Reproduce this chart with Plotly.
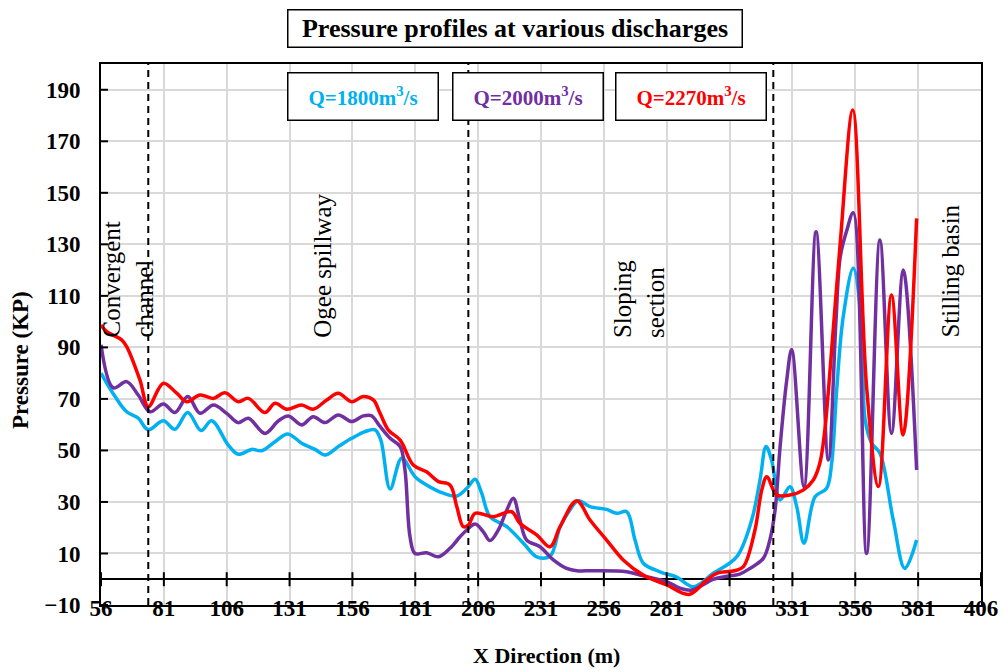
import plotly.graph_objects as go

# ---------------- data ----------------
x_1800 = [56, 61.6, 66.2, 70.8, 74.8, 80.8, 85.4, 90.5, 95.8, 100, 106.6, 110.6, 115.9, 119.9,
          125.2, 130.3, 135.8, 141.1, 145.1, 150.4, 155.7, 161, 165, 167.3, 171, 175.6, 180.9,
          185.5, 192.1, 197.5, 201.5, 204.8, 207.4, 210.7, 217.4, 224, 229.3, 234.6, 238.6,
          242.5, 245.8, 250.5, 257.1, 261.1, 265.1, 268.4, 271.7, 278.3, 285, 291.6, 299.5,
          308.8, 314.8, 318.1, 320.5, 322.7, 326.1, 330, 332.7, 335.6, 340, 344.6, 346.6,
          348.6, 351.2, 355.2, 358.5, 359.9, 362.5, 365.8, 371.1, 375.7, 380.4]
p_1800 = [80, 70.9, 65, 62.5, 58, 61.5, 58.2, 64.7, 57.7, 61.5, 52.1, 48.5, 50.4, 49.9,
          53.4, 56.4, 52.8, 50.4, 48.2, 51.5, 54.7, 57.3, 58, 54, 35, 47, 39.8,
          36.6, 33.4, 32.3, 35.3, 38.8, 33.4, 24.3, 20.4, 14, 8.7, 9, 20.4,
          26.9, 30.5, 28.2, 27.1, 25.6, 26.2, 15.2, 6.2, 2.9, 0.8, -2.9, 2.3,
          8.7, 23, 38.5, 51.5, 46.3, 30.8, 35.9, 28.2, 14, 32, 35.3, 45,
          73.5, 101.9, 120.7, 99.3, 62, 52.8, 48.9, 23, 4.2, 15.2]

x_2000 = [56, 60.9, 66.2, 70.8, 75.5, 80.8, 85.4, 90.5, 95.4, 100.7, 106, 110.6, 114.6, 121.2,
          126.6, 130.5, 135.8, 140.4, 145.1, 150.4, 155.7, 160.3, 163.5, 167, 171, 175, 176.9,
          178.9, 180.9, 185.5, 190.2, 194.8, 198.8, 201.5, 204.8, 208, 210.7, 214, 217.4, 220,
          222.6, 225.3, 230.6, 235.9, 241.2, 245.2, 251.8, 265.1, 271.7, 281, 286.3, 291,
          299.5, 304, 310, 314.1, 319.4, 322, 324.1, 326.1, 328.7, 330.7, 335.6, 340.4,
          345.3, 348.3, 350, 352.5, 355.2, 360.5, 365.8, 370.4, 375.1, 380.4]
p_2000 = [91, 74.3, 76.7, 71.5, 65, 68, 64.7, 70.9, 64.4, 67.6, 64.4, 60.8, 62.5, 56.6,
          61.5, 63.4, 59.9, 63.1, 60.8, 63.8, 61.2, 63.4, 63.5, 59.3, 54.7, 51.5, 42.4,
          16.5, 10, 10.3, 8.7, 12, 16.5, 19.1, 21.4, 18.5, 15, 19.1, 26.9, 31.4,
          23, 15.2, 12.6, 7.5, 4.2, 3.3, 3.3, 2.9, 1.3, -0.9, -3.5, -4.2,
          0, 1, 2, 4.2, 8.1, 15.2, 26.9, 51.5, 77, 89.2, 36, 134.9,
          46.3, 100, 125, 135, 142.3, 10, 131.7, 56.6, 120, 42.4]

x_2270 = [56, 58.3, 64.2, 66.2, 71.5, 74.8, 80.8, 86.1, 90.1, 95.4, 100.7, 105.3, 110.6, 114.6,
          121.2, 125.2, 129.9, 135.8, 140.4, 145.8, 150.4, 155.7, 160.3, 164.3, 167, 170.3,
          175, 180.2, 185.5, 190.2, 194.8, 197.5, 200.1, 202.1, 204.8, 212, 219.3, 222.6,
          229.3, 234.6, 238.6, 245.2, 250.5, 257.1, 263.7, 271.7, 281, 289.8, 296.9, 300.9,
          308, 311.5, 316.1, 318.8, 320.8, 324.8, 330, 335.3, 339.3, 341.9, 343.9, 345.3,
          350, 355, 360.5, 365.2, 370.4, 375, 380.4]
p_2270 = [98.7, 96.1, 92.9, 90.3, 77.3, 67, 76.1, 72.2, 68.9, 71.5, 70.2, 72.4, 68.9, 70.2,
          64.7, 68.3, 66, 67.6, 66, 69.6, 72.2, 68.9, 70.9, 69.6, 64.4, 57.9,
          54, 44.3, 41.7, 37.9, 36.6, 28.2, 20.4, 21, 25.6, 24.3, 26.2, 21.7,
          17.2, 12.6, 20.4, 30.5, 23, 15.2, 7.5, 1.6, -2.2, -5.9, -0.3, 2.3,
          3.3, 4.9, 19.1, 34.6, 39.8, 32.7, 32.7, 34.6, 38.5, 45, 58, 73,
          130.4, 182.1, 74.7, 36, 110.3, 56, 140.1]

series_names = ["Q=1800m<sup>3</sup>/s", "Q=2000m<sup>3</sup>/s", "Q=2270m<sup>3</sup>/s"]
series_colors = ["#00B0F0", "#7030A0", "#FF0000"]

x_ticks = [56, 81, 106, 131, 156, 181, 206, 231, 256, 281, 306, 331, 356, 381, 406]
y_ticks = [-10, 10, 30, 50, 70, 90, 110, 130, 150, 170, 190]
section_bounds = [74.8, 202.1, 323.4]
section_labels = ["Convergent<br>channel", "Ogee spillway", "Sloping<br>section", "Stilling basin"]

FONT = "Liberation Serif, Times New Roman, serif"

fig = go.Figure()
for xs, ys, name, col in zip([x_1800, x_2000, x_2270], [p_1800, p_2000, p_2270],
                             series_names, series_colors):
    fig.add_trace(go.Scatter(x=xs, y=ys, mode="lines", name=name,
                             line=dict(color=col, width=3.5, shape="spline", smoothing=1.0),
                             showlegend=False))

# section boundary dashed lines
for b in section_bounds:
    fig.add_vline(x=b, line=dict(color="black", width=2, dash="7px,5px"))

# crossing tick marks on the zero line and on the y axis
for t in x_ticks:
    fig.add_shape(type="line", xref="x", yref="y", x0=t, x1=t, ysizemode="pixel",
                  yanchor=0, y0=-7, y1=7, line=dict(color="black", width=2))
for v in y_ticks:
    fig.add_shape(type="line", xref="x", yref="y", y0=v, y1=v, xsizemode="pixel",
                  xanchor=x_ticks[0], x0=-6, x1=7, line=dict(color="black", width=2))

fig.update_layout(
    width=1001, height=670,
    margin=dict(l=101, r=20, t=64, b=65, autoexpand=False),
    paper_bgcolor="white", plot_bgcolor="white",
    font=dict(family=FONT, color="black"),
    xaxis=dict(range=[x_ticks[0], x_ticks[-1]], tickvals=x_ticks, ticks="",
               automargin=False,
               showgrid=True, gridcolor="#d9d9d9", gridwidth=1.5,
               showline=True, mirror=True, linecolor="black", linewidth=2,
               zeroline=False, ticklabelstandoff=-19,
               tickfont=dict(family=FONT, size=23, color="black", weight="bold")),
    yaxis=dict(range=[-10, 200], tickvals=y_ticks, ticks="",
               automargin=False,
               showgrid=True, gridcolor="#d9d9d9", gridwidth=1.5,
               showline=True, mirror=True, linecolor="black", linewidth=2,
               zeroline=True, zerolinecolor="black", zerolinewidth=2,
               ticklabelstandoff=14,
               tickfont=dict(family=FONT, size=23, color="black", weight="bold")),
)

annots = []
# chart title in a box
annots.append(dict(text="<b>Pressure profiles at various discharges</b>", xref="paper", yref="paper",
                   x=0.471, y=1.0665, xanchor="center", yanchor="middle", showarrow=False,
                   font=dict(family=FONT, size=26, color="black"),
                   bordercolor="black", borderwidth=1.5, borderpad=2, width=449, height=32,
                   bgcolor="white"))
# legend-like boxes
for name, col, xp in zip(series_names, series_colors, [0.2972, 0.4847, 0.6705]):
    annots.append(dict(text="<b>" + name + "</b>", xref="paper", yref="paper",
                       x=xp, y=0.940, xanchor="center", yanchor="middle", showarrow=False,
                       font=dict(family=FONT, size=21, color=col),
                       bordercolor="black", borderwidth=1.5, borderpad=2, width=145, height=42,
                       bgcolor="white"))
# section labels
for lab, xp in zip(section_labels, [0.03125, 0.2508, 0.6114, 0.9648]):
    annots.append(dict(text=lab, xref="paper", yref="paper", x=xp, y=0.4898,
                       xanchor="center", yanchor="bottom", textangle=-90, align="left",
                       showarrow=False, font=dict(family=FONT, size=25, color="black")))
# axis titles
annots.append(dict(text="<b>Pressure (KP)</b>", xref="paper", yref="paper", x=-0.0909, y=0.4529,
                   xanchor="center", yanchor="middle", textangle=-90, showarrow=False,
                   font=dict(family=FONT, size=23, color="black")))
annots.append(dict(text="<b>X Direction (m)</b>", xref="paper", yref="paper", x=0.5063, y=-0.1195,
                   xanchor="center", yanchor="bottom", showarrow=False,
                   font=dict(family=FONT, size=22, color="black")))
fig.update_layout(annotations=annots)

fig.write_html("out.html")
